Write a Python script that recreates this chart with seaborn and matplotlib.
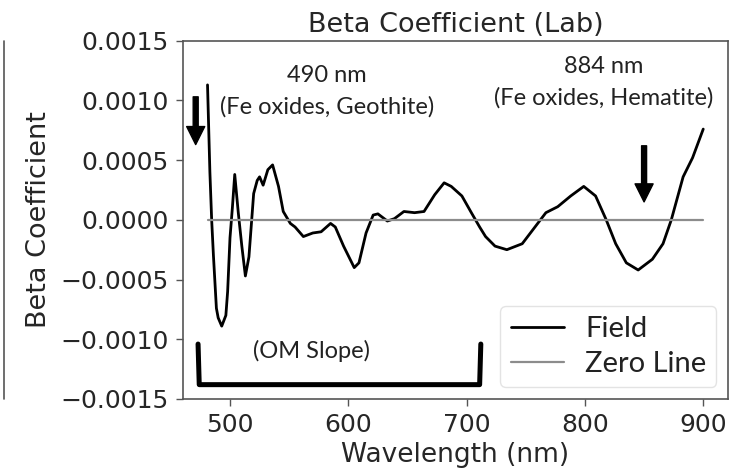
import matplotlib
matplotlib.use("Agg")
import matplotlib.pyplot as plt
from matplotlib.lines import Line2D
import seaborn as sns
import pandas as pd

# Regression (beta) coefficients across the spectrum
wavelength = [481, 483, 484.5, 486, 488.5, 490, 493, 496.5, 498, 500, 502, 504,
              507, 510, 513, 516, 520, 523, 525, 528, 532, 536, 541, 545, 551,
              555, 562, 570, 577, 585, 589, 596, 605, 609, 615, 621, 625, 633,
              639, 647, 656, 664, 673, 681, 687, 696, 704, 711, 716, 724, 734,
              747, 757, 767, 777, 788, 799, 809, 818, 826, 835, 845, 857, 866,
              873, 883, 891, 900]
beta = [0.00113, 0.00040, 0.0, -0.00030, -0.00074, -0.00082, -0.00089, -0.00080,
        -0.00060, -0.00015, 0.00010, 0.00038, 0.00006, -0.00022, -0.00047,
        -0.00031, 0.00022, 0.00033, 0.00036, 0.00029, 0.00042, 0.00046, 0.00028,
        0.00007, -0.00003, -0.00006, -0.00014, -0.00011, -0.00010, -0.00003,
        -0.00006, -0.00022, -0.00040, -0.00036, -0.00011, 0.00004, 0.00005,
        -0.00001, 0.00001, 0.00007, 0.00006, 0.00007, 0.00021, 0.00031, 0.00028,
        0.00020, 0.00006, -0.00006, -0.00014, -0.00022, -0.00025, -0.00020,
        -0.00007, 0.00006, 0.00011, 0.00020, 0.00028, 0.00020, 0.00000,
        -0.00020, -0.00036, -0.00042, -0.00033, -0.00020, 0.00000, 0.00036,
        0.00052, 0.00076]
zero_line = [0.0, 0.0]

x_ticks = [500, 600, 700, 800, 900]
y_ticks = [-0.0015, -0.0010, -0.0005, 0.0, 0.0005, 0.0010, 0.0015]

sns.set_theme(style="ticks")
plt.rcParams["font.family"] = ["DejaVu Sans"]
note_font = ["Lato", "DejaVu Sans"]

fig = plt.figure(figsize=(7.48, 4.70), dpi=100)
ax = fig.add_axes([0.2443, 0.1511, 0.9733 - 0.2443, 0.9134 - 0.1511])

field_df = pd.DataFrame({"wavelength": wavelength, "beta": beta})
zero_df = pd.DataFrame({"wavelength": [wavelength[0], wavelength[-1]], "beta": zero_line})

sns.lineplot(data=field_df, x="wavelength", y="beta", color="black", lw=2.0,
             label="Field", ax=ax, sort=False)
sns.lineplot(data=zero_df, x="wavelength", y="beta", color="#8c8c8c", lw=1.6,
             label="Zero Line", ax=ax)

ax.set_ylim(-0.0015, 0.0015)
ax.set_xticks(x_ticks)
ax.set_yticks(y_ticks)
ax.set_yticklabels([f"{v:.4f}".replace("-", "\u2212") for v in y_ticks])
ax.tick_params(labelsize=18, length=5, width=1, color="#555555", pad=5)
for s in ax.spines.values():
    s.set_color("#555555")
    s.set_linewidth(1.2)

ax.set_xlabel("Wavelength (nm)", fontsize=19, labelpad=4)
ax.set_ylabel("Beta Coefficient", fontsize=19.5, labelpad=6)
ax.set_title("Beta Coefficient (Lab)", fontsize=19.5, pad=6)

# Absorption feature notes
note_kw = dict(ha="center", va="center", fontsize=17, family=note_font, color="#222222")
ax.text(582, 0.00121, "490 nm", **note_kw)
ax.text(582, 0.00095, "(Fe oxides, Geothite)", **note_kw)
ax.text(816, 0.00128, "884 nm", **note_kw)
ax.text(816, 0.00102, "(Fe oxides, Hematite)", **note_kw)
ax.text(569, -0.0011, "(OM Slope)", **note_kw)

arrow_style = dict(facecolor="black", edgecolor="black", width=3.6, headwidth=13, headlength=13)
ax.annotate("", xy=(471, 0.00063), xytext=(471, 0.00103), arrowprops=arrow_style)
ax.annotate("", xy=(850, 0.00015), xytext=(850, 0.00062), arrowprops=arrow_style)

# Bracket marking the organic-matter slope region
ax.add_line(Line2D([473, 474, 711, 712], [-0.00104, -0.00138, -0.00138, -0.00104],
                   color="black", lw=3.6, solid_joinstyle="round", solid_capstyle="round"))

leg = ax.legend(loc="lower right", fontsize=21, handlelength=1.85, handletextpad=0.7,
                borderpad=0.35, labelspacing=0.3, borderaxespad=0.4,
                frameon=True, fancybox=True)
leg.get_frame().set_edgecolor("#dddddd")
for t in leg.get_texts():
    t.set_family(note_font)
    t.set_color("#222222")

# Edge of the neighbouring panel
fig.add_artist(Line2D([4 / 748, 4 / 748], [1 - 41 / 470, 1 - 399 / 470],
                      transform=fig.transFigure, color="#555555", lw=1.2))

fig.savefig("out.png", dpi=100)
